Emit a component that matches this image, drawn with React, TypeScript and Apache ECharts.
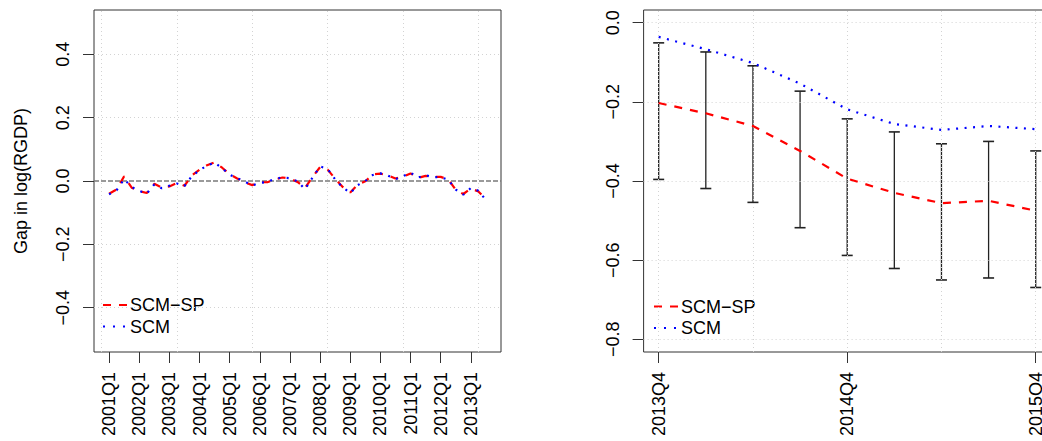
import React, { useEffect, useRef } from "react";
import * as echarts from "echarts";

// ---------- data ----------
const leftTickLabels = [
  "2001Q1", "2002Q1", "2003Q1", "2004Q1", "2005Q1", "2006Q1", "2007Q1",
  "2008Q1", "2009Q1", "2010Q1", "2011Q1", "2012Q1", "2013Q1",
];
const leftTickIdx = [0, 4, 8, 12, 16, 20, 24, 28, 32, 36, 40, 44, 48];
const leftGridX = [-1, 9, 19, 29, 39, 49];
const leftGridY = [-0.4, -0.2, 0, 0.2, 0.4];

// quarterly gaps 2001Q1 .. 2013Q3
const scmSpLeft = [
  -0.040, -0.027, 0.015, -0.021, -0.032, -0.038, -0.009, -0.021, -0.017, -0.006,
  -0.015, 0.018, 0.036, 0.050, 0.059, 0.042, 0.021, 0.008, -0.004, -0.013,
  -0.004, -0.004, 0.005, 0.011, 0.008, -0.003, -0.022, 0.013, 0.044, 0.036,
  0.007, -0.019, -0.036, -0.011, -0.001, 0.021, 0.023, 0.018, 0.008, 0.013,
  0.024, 0.010, 0.016, 0.013, 0.013, 0.005, -0.028, -0.041, -0.024, -0.033,
  -0.058,
];
const scmLeft = [
  -0.042, -0.029, 0.006, -0.019, -0.031, -0.040, -0.011, -0.023, -0.015, -0.008,
  -0.016, 0.016, 0.034, 0.049, 0.058, 0.040, 0.020, 0.009, -0.002, -0.014,
  -0.006, -0.003, 0.007, 0.011, 0.009, -0.001, -0.026, 0.011, 0.046, 0.038,
  0.005, -0.020, -0.038, -0.013, 0.000, 0.019, 0.024, 0.017, 0.006, 0.015,
  0.026, 0.011, 0.018, 0.012, 0.012, 0.004, -0.027, -0.043, -0.022, -0.031,
  -0.060,
];

const rightTickLabels = ["2013Q4", "2014Q4", "2015Q4"];
const rightTickIdx = [0, 4, 8];
const rightGridX = [0, 2, 4, 6, 8];
const rightGridY = [0, -0.2, -0.4, -0.6, -0.8];

const scmSpRight = [-0.203, -0.229, -0.261, -0.324, -0.394, -0.430, -0.456, -0.450, -0.475];
const scmRight = [-0.036, -0.067, -0.102, -0.154, -0.219, -0.256, -0.271, -0.261, -0.269];
const ciUpper = [-0.051, -0.074, -0.109, -0.173, -0.243, -0.276, -0.306, -0.300, -0.324];
const ciLower = [-0.396, -0.419, -0.454, -0.518, -0.588, -0.621, -0.650, -0.645, -0.669];

const legendNames = ["SCM\u2212SP", "SCM"];

// ---------- styles ----------
const FONT = "'Liberation Sans', Arial, Helvetica, sans-serif";
const RED = "#ff0000";
const BLUE = "#0000ff";
const GRIDC = "#d3d3d3";
const FS = 18;

const fmtNum = (v: number) => {
  const s = Math.abs(v).toFixed(1);
  return v < -1e-9 ? "\u2212" + s : s;
};

export default function App() {
  const ref = useRef<HTMLDivElement>(null);

  useEffect(() => {
    if (!ref.current) return;
    const chart = echarts.init(ref.current, null, { renderer: "svg" });

    const gridLineStyle = { type: [1, 3] as any, color: GRIDC, width: 1 };
    const markLines = (xs: number[], ys: number[]) => ({
      silent: true,
      symbol: ["none", "none"],
      label: { show: false },
      lineStyle: gridLineStyle,
      emphasis: { disabled: true },
      data: [...xs.map((x) => ({ xAxis: x })), ...ys.map((y) => ({ yAxis: y }))],
    });

    const xAxisCommon = (gridIndex: number, min: number, max: number, ticks: number[], labels: string[]) => ({
      type: "value",
      gridIndex,
      min,
      max,
      position: "bottom",
      axisLine: { show: false, onZero: false },
      splitLine: { show: false },
      axisTick: {
        show: true,
        inside: false,
        customValues: ticks,
        length: 11,
        lineStyle: { color: "#333", width: 1 },
      },
      axisLabel: {
        customValues: ticks,
        rotate: 90,
        margin: 20,
        fontSize: FS,
        fontFamily: FONT,
        color: "#000",
        formatter: (v: number) => labels[ticks.indexOf(Math.round(v))] ?? "",
      },
    });

    const yAxisCommon = (gridIndex: number, min: number, max: number, ticks: number[]) => ({
      type: "value",
      gridIndex,
      min,
      max,
      position: "left",
      axisLine: { show: false, onZero: false },
      splitLine: { show: false },
      axisTick: {
        show: true,
        inside: false,
        customValues: ticks,
        length: 11,
        lineStyle: { color: "#333", width: 1 },
      },
      axisLabel: {
        customValues: ticks,
        rotate: 90,
        margin: 22,
        fontSize: FS,
        fontFamily: FONT,
        color: "#000",
        formatter: (v: number) => fmtNum(v),
      },
    });

    const lineSeries = (name: string, data: number[], color: string, dash: number[], axis: number) => ({
      type: "line",
      name,
      xAxisIndex: axis,
      yAxisIndex: axis,
      data: data.map((v, i) => [i, v]),
      showSymbol: false,
      symbol: "none",
      silent: true,
      lineStyle: { color, width: 2.2, type: dash as any, cap: "butt" },
      z: 5,
    });

    const errRender = (params: any, api: any) => {
      const x = api.value(0);
      const lo = api.value(1);
      const hi = api.value(2);
      const pHi = api.coord([x, hi]);
      const pLo = api.coord([x, lo]);
      const w = 5.5;
      const st = { stroke: "#222", lineWidth: 1.3 };
      return {
        type: "group",
        children: [
          { type: "line", shape: { x1: pHi[0], y1: pHi[1], x2: pLo[0], y2: pLo[1] }, style: st },
          { type: "line", shape: { x1: pHi[0] - w, y1: pHi[1], x2: pHi[0] + w, y2: pHi[1] }, style: { ...st, lineWidth: 1.6 } },
          { type: "line", shape: { x1: pLo[0] - w, y1: pLo[1], x2: pLo[0] + w, y2: pLo[1] }, style: { ...st, lineWidth: 1.6 } },
        ],
      };
    };

    const legend = (x0: number, y0: number) => [
      {
        type: "line",
        shape: { x1: x0, y1: y0, x2: x0 + 25, y2: y0 },
        style: { stroke: RED, lineWidth: 2.2, lineDash: [8, 8] },
        silent: true,
      },
      {
        type: "text",
        x: x0 + 27,
        y: y0,
        style: { text: legendNames[0], font: `${FS}px ${FONT}`, fill: "#000", verticalAlign: "middle", align: "left" },
        silent: true,
      },
      {
        type: "line",
        shape: { x1: x0, y1: y0 + 21.5, x2: x0 + 25, y2: y0 + 21.5 },
        style: { stroke: BLUE, lineWidth: 2.2, lineDash: [2, 8] },
        silent: true,
      },
      {
        type: "text",
        x: x0 + 27,
        y: y0 + 21.5,
        style: { text: legendNames[1], font: `${FS}px ${FONT}`, fill: "#000", verticalAlign: "middle", align: "left" },
        silent: true,
      },
    ];

    chart.setOption({
      animation: false,
      backgroundColor: "#fff",
      textStyle: { fontFamily: FONT },
      grid: [
        { left: 94, top: 10, width: 407, height: 342, show: true, borderColor: "#333", borderWidth: 1, backgroundColor: "transparent" },
        { left: 643.6, top: 10, width: 407.2, height: 342, show: true, borderColor: "#333", borderWidth: 1, backgroundColor: "transparent" },
      ],
      xAxis: [
        xAxisCommon(0, -2, 52, leftTickIdx, leftTickLabels),
        xAxisCommon(1, -0.32, 8.32, rightTickIdx, rightTickLabels),
      ],
      yAxis: [
        {
          ...yAxisCommon(0, -0.54, 0.54, leftGridY),
          name: "Gap in log(RGDP)",
          nameLocation: "middle",
          nameRotate: 90,
          nameGap: 64,
          nameTextStyle: { fontSize: FS, fontFamily: FONT, color: "#000" },
        },
        yAxisCommon(1, -0.832, 0.032, rightGridY),
      ],
      series: [
        {
          type: "line",
          xAxisIndex: 0,
          yAxisIndex: 0,
          data: [[-100, -100]],
          showSymbol: false,
          silent: true,
          lineStyle: { opacity: 0 },
          markLine: markLines(leftGridX, leftGridY.filter((v) => v !== 0)),
          z: 1,
        },
        {
          type: "line",
          xAxisIndex: 0,
          yAxisIndex: 0,
          data: [[-100, -100]],
          showSymbol: false,
          silent: true,
          lineStyle: { opacity: 0 },
          markLine: {
            silent: true,
            symbol: ["none", "none"],
            label: { show: false },
            lineStyle: { type: [5, 2] as any, color: "#7a7a7a", width: 1.6 },
            emphasis: { disabled: true },
            data: [{ yAxis: 0 }],
          },
          z: 2,
        },
        {
          type: "line",
          xAxisIndex: 1,
          yAxisIndex: 1,
          data: [[-100, -100]],
          showSymbol: false,
          silent: true,
          lineStyle: { opacity: 0 },
          markLine: markLines(rightGridX, rightGridY),
          z: 1,
        },
        lineSeries(legendNames[0], scmSpLeft, RED, [8, 8], 0),
        lineSeries(legendNames[1], scmLeft, BLUE, [2, 6.5], 0),
        {
          type: "custom",
          xAxisIndex: 1,
          yAxisIndex: 1,
          silent: true,
          renderItem: errRender,
          encode: { x: 0, y: [1, 2] },
          data: ciLower.map((lo, i) => [i, lo, ciUpper[i]]),
          z: 3,
        },
        lineSeries(legendNames[0], scmSpRight, RED, [8, 8], 1),
        lineSeries(legendNames[1], scmRight, BLUE, [2, 6.5], 1),
      ],
      graphic: [...legend(103, 305), ...legend(654, 306.5)],
    });

    return () => chart.dispose();
  }, []);

  return (
    <div style={{ position: "absolute", left: 0, top: 0, width: 1042, height: 441, overflow: "hidden", background: "#fff" }}>
      <div ref={ref} style={{ width: 1062, height: 441 }} />
    </div>
  );
}
